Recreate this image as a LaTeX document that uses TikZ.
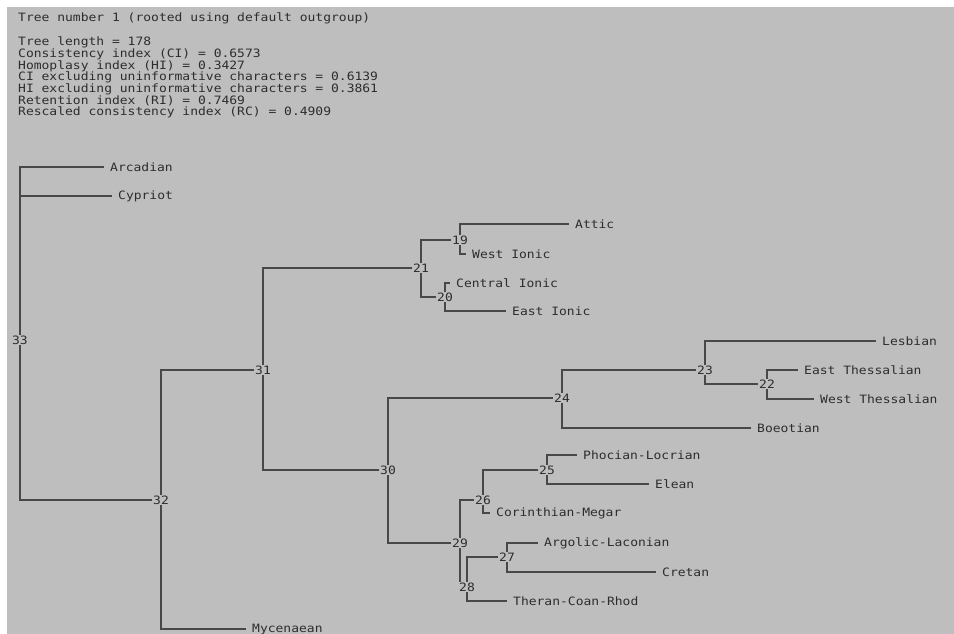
\documentclass[tikz,border=0pt]{standalone}
\usepackage{fontspec}
\newfontfamily\pix[FakeStretch=1.13]{DejaVu Sans Mono}
\definecolor{bg}{RGB}{190,190,190}
\definecolor{ln}{RGB}{72,72,72}
\definecolor{tx}{RGB}{45,45,45}
\begin{document}
\begin{tikzpicture}[x=1pt,y=-1pt,
  every node/.style={font=\pix\fontsize{11.5}{13}\selectfont, text=tx},
  hdr/.style={anchor=west, inner sep=0pt},
  leaf/.style={anchor=west, inner xsep=6pt, inner ysep=1pt},
  inner/.style={fill=bg, inner xsep=0.8pt, inner ysep=0.5pt},
  br/.style={draw=ln, line width=1.6pt}]
\useasboundingbox (0,0) rectangle (954,634);
\fill[white] (0,0) rectangle (954,634);
\fill[bg] (7,7) rectangle (954,634);
% header
\node[hdr] (h1) at (18,18.3) {Tree number 1 (rooted using default outgroup)};
\node[hdr] (h2) at (18,42.7) {Tree length = 178};
\node[hdr] (h3) at (18,54.3) {Consistency index (CI) = 0.6573};
\node[hdr] (h4) at (18,66) {Homoplasy index (HI) = 0.3427};
\node[hdr] (h5) at (18,77.7) {CI excluding uninformative characters = 0.6139};
\node[hdr] (h6) at (18,89.3) {HI excluding uninformative characters = 0.3861};
\node[hdr] (h7) at (18,101) {Retention index (RI) = 0.7469};
\node[hdr] (h8) at (18,112.7) {Rescaled consistency index (RC) = 0.4909};
% leaves
\node[leaf] (arc) at (104,167) {Arcadian};
\node[leaf] (cyp) at (112,196) {Cypriot};
\node[leaf] (myc) at (246,629) {Mycenaean};
\node[leaf] (att) at (569,224) {Attic};
\node[leaf] (wio) at (466,254) {West Ionic};
\node[leaf] (cio) at (450,283) {Central Ionic};
\node[leaf] (eio) at (506,311) {East Ionic};
\node[leaf] (les) at (876,341) {Lesbian};
\node[leaf] (eth) at (798,370) {East Thessalian};
\node[leaf] (wth) at (814,399) {West Thessalian};
\node[leaf] (boe) at (751,428) {Boeotian};
\node[leaf] (pho) at (577,455) {Phocian-Locrian};
\node[leaf] (ele) at (649,484) {Elean};
\node[leaf] (cor) at (490,513) {Corinthian-Megar};
\node[leaf] (arg) at (538,543) {Argolic-Laconian};
\node[leaf] (cre) at (656,572) {Cretan};
\node[leaf] (the) at (507,601) {Theran-Coan-Rhod};
% internal nodes
\node[inner] (n33) at (20,340) {33};
\node[inner] (n32) at (161,500) {32};
\node[inner] (n31) at (263,370) {31};
\node[inner] (n21) at (421,268) {21};
\node[inner] (n19) at (460,240) {19};
\node[inner] (n20) at (445,297) {20};
\node[inner] (n30) at (388,470) {30};
\node[inner] (n24) at (562,398) {24};
\node[inner] (n23) at (705,370) {23};
\node[inner] (n22) at (767,384) {22};
\node[inner] (n29) at (460,543) {29};
\node[inner] (n26) at (483,500) {26};
\node[inner] (n25) at (547,470) {25};
\node[inner] (n28) at (467,587) {28};
\node[inner] (n27) at (507,557) {27};
% branches
\draw[br] (n33) |- (arc);
\draw[br] (n33) |- (cyp);
\draw[br] (n33) |- (n32);
\draw[br] (n32) |- (n31);
\draw[br] (n32) |- (myc);
\draw[br] (n31) |- (n21);
\draw[br] (n31) |- (n30);
\draw[br] (n21) |- (n19);
\draw[br] (n21) |- (n20);
\draw[br] (n19) |- (att);
\draw[br] (n19) |- (wio);
\draw[br] (n20) |- (cio);
\draw[br] (n20) |- (eio);
\draw[br] (n30) |- (n24);
\draw[br] (n30) |- (n29);
\draw[br] (n24) |- (n23);
\draw[br] (n24) |- (boe);
\draw[br] (n23) |- (les);
\draw[br] (n23) |- (n22);
\draw[br] (n22) |- (eth);
\draw[br] (n22) |- (wth);
\draw[br] (n29) |- (n26);
\draw[br] (n29) -- (n29 |- n28.north);
\draw[br] (n26) |- (n25);
\draw[br] (n26) |- (cor);
\draw[br] (n25) |- (pho);
\draw[br] (n25) |- (ele);
\draw[br] (n28) |- (n27);
\draw[br] (n28) |- (the);
\draw[br] (n27) |- (arg);
\draw[br] (n27) |- (cre);
\end{tikzpicture}
\end{document}
